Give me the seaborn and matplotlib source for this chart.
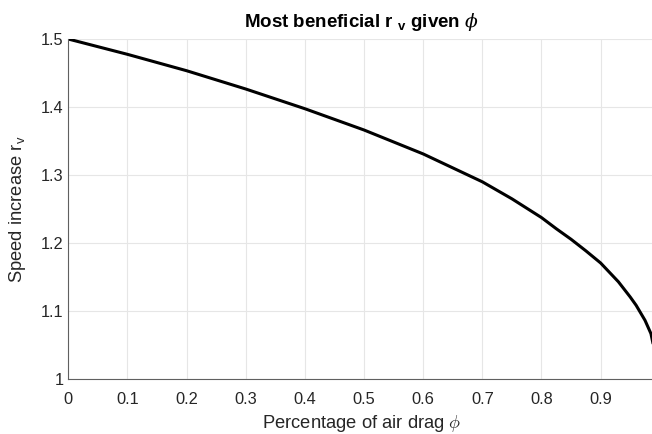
import numpy as np
import pandas as pd
import matplotlib
matplotlib.use("Agg")
import matplotlib.pyplot as plt
import seaborn as sns

# values
phi = [0.0, 0.1, 0.2, 0.3, 0.4, 0.5, 0.6, 0.7, 0.75, 0.8, 0.825, 0.85,
       0.875, 0.9, 0.93, 0.95, 0.96, 0.975, 0.985, 0.992]
r_v = [1.500, 1.4775, 1.4534, 1.4265, 1.3975, 1.3662, 1.331, 1.290, 1.265,
       1.2374, 1.221, 1.2055, 1.1885, 1.1706, 1.143, 1.1206, 1.1084, 1.0863,
       1.0668, 1.038]

x_ticks = [0, 0.1, 0.2, 0.3, 0.4, 0.5, 0.6, 0.7, 0.8, 0.9]
x_labels = ["0", "0.1", "0.2", "0.3", "0.4", "0.5", "0.6", "0.7", "0.8", "0.9"]
y_ticks = [1.0, 1.1, 1.2, 1.3, 1.4, 1.5]
y_labels = ["1", "1.1", "1.2", "1.3", "1.4", "1.5"]

df = pd.DataFrame({"phi": phi, "r_v": r_v})

sns.set_style("white")
plt.rcParams['font.family'] = ['Liberation Sans', 'DejaVu Sans']
plt.rcParams['mathtext.fontset'] = 'custom'
plt.rcParams['mathtext.rm'] = 'Liberation Sans'
plt.rcParams['mathtext.bf'] = 'Liberation Sans:bold'
plt.rcParams['mathtext.it'] = 'DejaVu Serif:italic'
plt.rcParams['xtick.direction'] = 'in'
plt.rcParams['ytick.direction'] = 'in'

fig = plt.figure(figsize=(6.52, 4.34), dpi=100)
ax = fig.add_axes([0.1047, 0.1267, 0.9, 0.7834])

sns.lineplot(data=df, x="phi", y="r_v", color="black", linewidth=2.2, ax=ax)

ax.set_xlim(0, 0.992)
ax.set_ylim(1.0, 1.5)
ax.set_xticks(x_ticks)
ax.set_xticklabels(x_labels)
ax.set_yticks(y_ticks)
ax.set_yticklabels(y_labels)
ax.tick_params(labelsize=11.8, length=4, width=0.8, colors="#555555", labelcolor="#262626")
ax.tick_params(axis="x", pad=9)
ax.grid(True, color="#e6e6e6", linewidth=0.8)

for s in ["top", "right"]:
    ax.spines[s].set_visible(False)
for s in ["left", "bottom"]:
    ax.spines[s].set_color("#606060")
    ax.spines[s].set_linewidth(0.8)

ax.set_xlabel(r"Percentage of air drag $\phi$", fontsize=13.2, color="#262626",
              math_fontfamily="cm", labelpad=5)
ax.set_ylabel(r"Speed increase r$_\mathrm{v}$", fontsize=13.2, color="#262626",
              labelpad=9)
ax.set_title(r"Most beneficial r $_\mathbf{v}$ given $\phi$", fontsize=13.5,
             fontweight="bold", color="black", pad=9)

plt.savefig("out.png", dpi=100)
